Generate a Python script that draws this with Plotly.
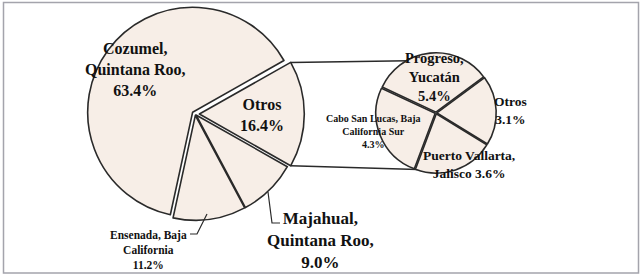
import math
import plotly.graph_objects as go

# ---- data ----
main_labels = ["Otros", "Majahual, Quintana Roo", "Ensenada, Baja California", "Cozumel, Quintana Roo"]
main_values = [16.4, 9.0, 11.2, 63.4]
main_display = ["Otros", "Majahual,<br>Quintana Roo,", "Ensenada, Baja<br>California", "Cozumel,<br>Quintana Roo,"]
main_sep = ["<br>", "<br>", "<br>", "<br>"]

sec_labels = ["Progreso, Yucatán", "Otros", "Puerto Vallarta, Jalisco", "Cabo San Lucas, Baja California Sur"]
sec_values = [5.4, 3.1, 3.6, 4.3]
sec_display = ["Progreso,<br>Yucatán", "Otros", "Puerto Vallarta,<br>Jalisco", "Cabo San Lucas, Baja<br>California Sur"]
sec_sep = ["<br>", "<br>", " ", "<br>"]

# ---- style / layout ----
W, H = 642, 275
FILL = "#F7EEE7"
EDGE = "#2a2a2a"
FONT = "Liberation Serif"

main_dom_x = [0.134, 0.474]
main_dom_y = [0.188, 0.9825]
main_pull = [0.04, 0.012, 0.012, 0.03]
main_rot = 60.5

sec_dom_x = [0.5854, 0.7729]
sec_dom_y = [0.3702, 0.808]
sec_pull = [0.015, 0.015, 0.015, 0.015]
sec_rot = -65

fig = go.Figure()
fig.add_trace(go.Pie(
    labels=main_labels, values=main_values, sort=False, direction="clockwise",
    rotation=main_rot, pull=main_pull, textinfo="none", hoverinfo="label+percent",
    marker=dict(colors=[FILL] * len(main_values), line=dict(color=EDGE, width=1.6)),
    domain=dict(x=main_dom_x, y=main_dom_y), showlegend=False,
))
fig.add_trace(go.Pie(
    labels=sec_labels, values=sec_values, sort=False, direction="clockwise",
    rotation=sec_rot, pull=sec_pull, textinfo="none", hoverinfo="label+value",
    marker=dict(colors=[FILL] * len(sec_values), line=dict(color=EDGE, width=1.6)),
    domain=dict(x=sec_dom_x, y=sec_dom_y), showlegend=False,
))


def pie_geom(dx, dy, pulls):
    w = W * (dx[1] - dx[0])
    h = H * (dy[1] - dy[0])
    r = min(w, h) / 2 / (1 + max(pulls))
    cx = W * (dx[0] + dx[1]) / 2
    cy = H * (1 - (dy[0] + dy[1]) / 2)
    return cx, cy, r


def to_paper(px, py):
    return px / W, 1 - py / H


mcx, mcy, mr = pie_geom(main_dom_x, main_dom_y, main_pull)
scx, scy, sr = pie_geom(sec_dom_x, sec_dom_y, sec_pull)

# Otros slice edges (clockwise degrees from 12 o'clock)
tot = sum(main_values)
a0 = main_rot
a1 = main_rot + 360 * main_values[0] / tot
amid = math.radians((a0 + a1) / 2)
pdx = main_pull[0] * mr * math.sin(amid)
pdy = -main_pull[0] * mr * math.cos(amid)


def pt(cx, cy, r, a_deg, ox=0, oy=0):
    a = math.radians(a_deg)
    return cx + ox + r * math.sin(a), cy + oy - r * math.cos(a)


u0 = pt(mcx, mcy, mr, a0, pdx, pdy)
l0 = pt(mcx, mcy, mr, a1, pdx, pdy)
u1 = pt(scx, scy, sr, -28)
l1 = pt(scx, scy, sr, 198)

shapes = []
for p, q in [(u0, u1), (l0, l1)]:
    x0, y0 = to_paper(*p)
    x1, y1 = to_paper(*q)
    shapes.append(dict(type="line", xref="paper", yref="paper", x0=x0, y0=y0, x1=x1, y1=y1,
                       line=dict(color=EDGE, width=1.5), layer="below"))

# leader lines
def poly(points):
    path = "M " + " L ".join(f"{x / W:.5f},{1 - y / H:.5f}" for x, y in points)
    return dict(type="path", xref="paper", yref="paper", path=path,
                line=dict(color=EDGE, width=1.2))

shapes.append(poly([(207, 214), (197, 234), (190, 234)]))
shapes.append(poly([(268, 192), (272, 223), (280, 223)]))

# frame
shapes.append(dict(type="rect", xref="paper", yref="paper",
                   x0=3.5 / W, x1=638.5 / W, y0=1 - 273 / H, y1=1 - 2.5 / H,
                   line=dict(color="#A4A4AC", width=1.5), fillcolor="rgba(0,0,0,0)"))

# label annotations (position px, font size)
main_pos = [(262, 114.5, 16), (320, 240, 17), (148, 250, 11.5), (135, 70, 16)]
sec_pos = [(434, 77, 14.5), (510, 110, 13.5), (469, 164, 13.5), (373, 131, 10)]

annotations = []
for name, sep, v, (x, y, s) in zip(main_display, main_sep, main_values, main_pos):
    annotations.append(dict(x=x / W, y=1 - y / H, xref="paper", yref="paper",
                            text=f"<b>{name}{sep}{v:.1f}%</b>", showarrow=False,
                            xanchor="center", yanchor="middle",
                            font=dict(family=FONT, size=s, color="#111")))
for name, sep, v, (x, y, s) in zip(sec_display, sec_sep, sec_values, sec_pos):
    annotations.append(dict(x=x / W, y=1 - y / H, xref="paper", yref="paper",
                            text=f"<b>{name}{sep}{v:.1f}%</b>", showarrow=False,
                            xanchor="center", yanchor="middle",
                            font=dict(family=FONT, size=s, color="#111")))

fig.update_layout(
    width=W, height=H, margin=dict(l=0, r=0, t=0, b=0),
    paper_bgcolor="white", plot_bgcolor="white",
    shapes=shapes, annotations=annotations,
)
fig.write_html("out.html", config={"displayModeBar": False},
               post_script="document.body.style.margin='0';document.body.style.overflow='hidden';")
